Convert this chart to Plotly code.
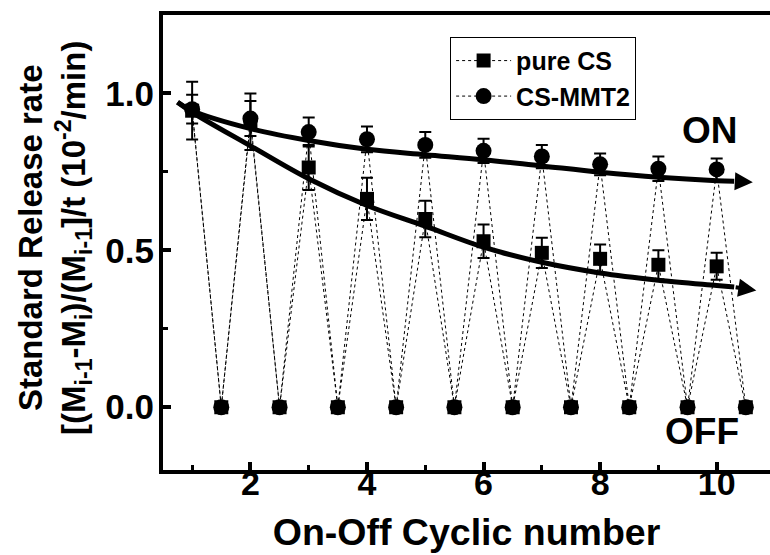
import plotly.graph_objects as go

# ---- data ----
cycle_on = [1, 2, 3, 4, 5, 6, 7, 8, 9, 10]
cycle_off = [1.5, 2.5, 3.5, 4.5, 5.5, 6.5, 7.5, 8.5, 9.5, 10.5]

pure_cs_on = [0.945, 0.91, 0.764, 0.664, 0.600, 0.529, 0.492, 0.473, 0.454, 0.449]
pure_cs_err = [0.092, 0.09, 0.072, 0.067, 0.058, 0.053, 0.048, 0.046, 0.046, 0.043]
pure_cs_off = [0, 0, 0, 0, 0, 0, 0, 0, 0, 0]

mmt_on = [0.950, 0.920, 0.877, 0.854, 0.836, 0.817, 0.799, 0.774, 0.760, 0.758]
mmt_err = [0.046, 0.056, 0.046, 0.041, 0.041, 0.039, 0.037, 0.035, 0.039, 0.035]
mmt_off = [0, 0, 0, 0, 0, 0, 0, 0, 0, 0]

fit_x = [0.75, 1, 2, 3, 4, 5, 6, 7, 8, 9, 10, 10.3]
fit_on = [0.972, 0.945, 0.888, 0.850, 0.822, 0.805, 0.789, 0.769, 0.749, 0.733, 0.722, 0.720]
fit_off = [0.972, 0.940, 0.833, 0.728, 0.643, 0.577, 0.510, 0.462, 0.428, 0.405, 0.388, 0.383]
arrow_on_tip = (10.62, 0.717)
arrow_off_tip = (10.68, 0.372)

label_on = ("ON", 9.886, 0.881)
label_off = ("OFF", 9.748, -0.078)

x_title = "On-Off Cyclic number"
y_title = ("Standard Release rate<br>"
           "[(M<sub>i-1</sub>-M<sub>i</sub>)/(M<sub>i-1</sub>]/t (10<sup>-2</sup>/min)")

FONT = "Liberation Sans, Arial, sans-serif"


def interleave(on_x, on_y, off_x, off_y):
    xs, ys = [], []
    for a, b, c, d in zip(on_x, on_y, off_x, off_y):
        xs += [a, c]
        ys += [b, d]
    return xs, ys


def interleave_err(err):
    out = []
    for e in err:
        out += [e, 0]
    return out


fig = go.Figure()

x_cs, y_cs = interleave(cycle_on, pure_cs_on, cycle_off, pure_cs_off)
x_mm, y_mm = interleave(cycle_on, mmt_on, cycle_off, mmt_off)

fig.add_trace(go.Scatter(
    x=x_cs, y=y_cs, mode="lines+markers", name="pure CS",
    line=dict(color="black", width=1, dash="dot"),
    marker=dict(symbol="square", size=14, color="black"),
    error_y=dict(type="data", array=interleave_err(pure_cs_err), color="black",
                 thickness=2, width=6),
))
fig.add_trace(go.Scatter(
    x=x_mm, y=y_mm, mode="lines+markers", name="CS-MMT2",
    line=dict(color="black", width=1, dash="dot"),
    marker=dict(symbol="circle", size=16, color="black"),
    error_y=dict(type="data", array=interleave_err(mmt_err), color="black",
                 thickness=2, width=6),
))

fig.add_trace(go.Scatter(x=fit_x, y=fit_on, mode="lines", showlegend=False,
                         line=dict(color="black", width=5, shape="spline")))
fig.add_trace(go.Scatter(x=fit_x, y=fit_off, mode="lines", showlegend=False,
                         line=dict(color="black", width=5, shape="spline")))

for tip, tail in [(arrow_on_tip, (fit_x[-1], fit_on[-1])),
                  (arrow_off_tip, (fit_x[-1], fit_off[-1]))]:
    fig.add_annotation(x=tip[0], y=tip[1], ax=tail[0], ay=tail[1],
                       xref="x", yref="y", axref="x", ayref="y",
                       showarrow=True, arrowhead=2, arrowsize=0.9,
                       arrowwidth=4, arrowcolor="black", text="")

for txt, lx, ly in (label_on, label_off):
    fig.add_annotation(x=lx, y=ly, xref="x", yref="y", text=txt,
                       showarrow=False, xanchor="center", yanchor="middle",
                       font=dict(family=FONT, size=37, color="black", weight="bold"))

# y-axis title, placed as a rotated text block left of the tick labels
fig.add_annotation(x=-0.178, y=0.51, xref="paper", yref="paper", text=y_title,
                   textangle=-90, showarrow=False, xanchor="center", yanchor="middle",
                   font=dict(family=FONT, size=33, color="black", weight="bold"))

fig.update_layout(
    width=770, height=555,
    margin=dict(l=163, r=0, t=15, b=85),
    plot_bgcolor="white", paper_bgcolor="white",
    font=dict(family=FONT, color="black"),
    legend=dict(x=0.473, y=0.952, xanchor="left", yanchor="top",
                bordercolor="black", borderwidth=1, bgcolor="white",
                itemwidth=55,
                font=dict(family=FONT, size=25, color="black", weight="bold"),
                tracegroupgap=0),
    xaxis=dict(range=[0.5, 10.915], dtick=2, tick0=0, showgrid=False, zeroline=False,
               showline=True, linecolor="black", linewidth=4, mirror=True,
               ticks="inside", ticklen=8, tickwidth=4, tickcolor="black",
               minor=dict(dtick=1, tick0=0, ticks="inside", ticklen=5, tickwidth=3, tickcolor="black"),
               tickfont=dict(family=FONT, size=34, color="black", weight="bold"),
               ticklabelstandoff=-20,
               title=dict(text=x_title, standoff=19,
                          font=dict(family=FONT, size=37.5, color="black", weight="bold"))),
    yaxis=dict(range=[-0.2, 1.25], dtick=0.5, tick0=0, tickformat=".1f",
               showgrid=False, zeroline=False,
               showline=True, linecolor="black", linewidth=4, mirror=False,
               ticks="inside", ticklen=8, tickwidth=4, tickcolor="black",
               minor=dict(dtick=0.25, tick0=0, ticks="inside", ticklen=5, tickwidth=3, tickcolor="black"),
               tickfont=dict(family=FONT, size=35, color="black", weight="bold"),
               ticklabelstandoff=-2),
)

fig.write_html("out.html")
